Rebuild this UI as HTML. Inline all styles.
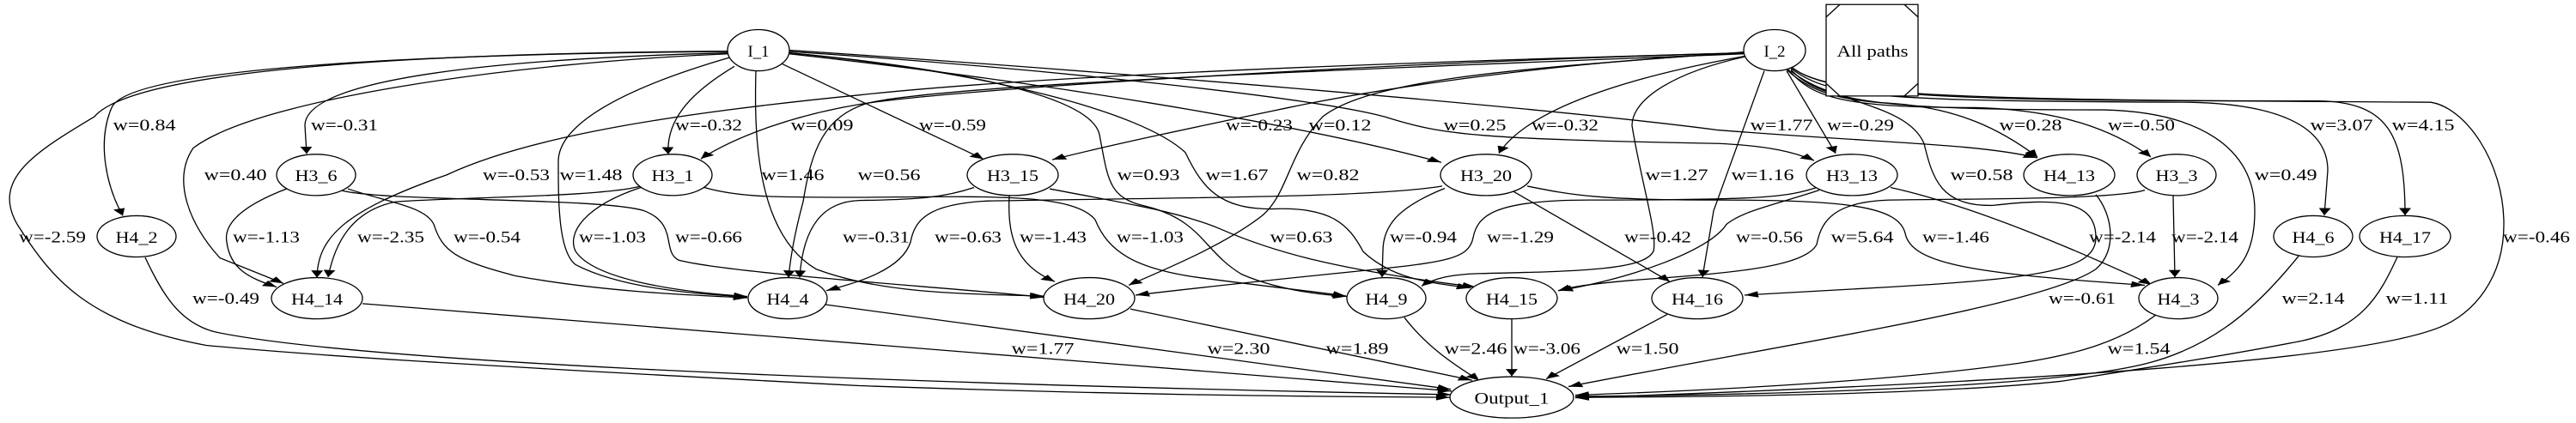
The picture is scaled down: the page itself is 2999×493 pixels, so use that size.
<!DOCTYPE html>
<html><head><meta charset="utf-8"><style>
html,body{margin:0;padding:0;background:#fff;}
svg{display:block;}
text{font-family:"Liberation Serif",serif;font-size:37px;fill:#000;}
path,ellipse,rect,line{vector-effect:non-scaling-stroke;}
</style></head><body>
<svg width="2999" height="493" viewBox="0 0 2999 493" xmlns="http://www.w3.org/2000/svg">
<defs>
<marker id="a" markerUnits="userSpaceOnUse" markerWidth="18" markerHeight="18" refX="16" refY="7" orient="auto">
<polygon points="0,0 16,7 0,14" fill="#000"/>
</marker>
</defs>
<g transform="scale(1,0.5227)">
<g fill="none" stroke="#000" stroke-width="1.3" marker-end="url(#a)">
<path d="M847,115 C500,120 150,150 130,240 C112,320 125,420 143,481"/>
<path d="M847,118 C600,130 355,170 355,280 L357,343"/>
<path d="M847,114 C400,120 150,170 110,260 C40,340 -10,400 20,500 C60,620 100,720 240,770 C350,790 500,810 1000,860 C1300,880 1500,884 1688,886"/>
<path d="M847,120 C600,140 300,220 225,330 C200,400 220,500 256,575 L330,632"/>
<path d="M850,128 C720,200 650,280 650,360 C650,450 650,560 670,590 C720,640 800,655 870,662"/>
<path d="M855,148 C810,200 775,260 778,344"/>
<path d="M880,158 C878,300 880,520 950,600 C1020,650 1100,655 1215,660"/>
<path d="M910,142 L1145,355"/>
<path d="M919,120 C1200,180 1500,270 1678,362"/>
<path d="M919,115 C1200,150 1550,220 1620,265 C1680,300 1720,310 2000,320 C2060,325 2090,340 2112,358"/>
<path d="M919,112 C1300,160 1800,240 2000,290 C2200,320 2300,320 2372,352"/>
<path d="M919,118 C1100,150 1270,210 1280,300 C1290,400 1290,440 1332,459 C1400,490 1400,560 1446,612 C1480,640 1520,655 1568,661"/>
<path d="M919,118 C1150,160 1330,250 1380,340 C1400,420 1420,466 1480,466 C1550,460 1570,500 1587,561 C1620,620 1660,630 1712,642"/>
<path d="M746,415 C700,440 520,440 460,450 C410,470 390,540 382,618"/>
<path d="M746,418 C680,460 660,520 670,560 C690,620 780,650 870,661"/>
<path d="M820,418 C860,440 900,440 1000,440 C1150,438 1250,430 1275,490 C1290,560 1320,600 1400,620 C1480,640 1530,650 1567,660"/>
<path d="M335,420 C280,460 260,500 264,540 C268,600 290,620 322,640"/>
<path d="M405,421 C450,450 495,460 505,500 C515,560 530,580 600,615 C700,650 800,658 870,664"/>
<path d="M398,425 C450,450 700,440 750,470 C790,500 770,560 790,580 C850,610 1100,640 1216,663"/>
<path d="M1134,418 C1100,440 1070,445 1000,447 C960,450 935,500 931,619"/>
<path d="M1175,437 C1173,520 1180,590 1228,628"/>
<path d="M1222,421 C1300,450 1370,470 1420,510 C1480,560 1550,600 1718,640"/>
<path d="M2030,118 C1600,140 1200,170 1000,212 C800,250 620,300 520,390 C400,470 370,530 369,619"/>
<path d="M2030,118 C1600,140 1100,200 1000,233 C930,255 860,300 816,354"/>
<path d="M2030,120 C1500,160 1100,190 1010,230 C960,260 945,330 935,450 C925,520 920,580 918,619"/>
<path d="M2030,118 C1800,140 1600,200 1500,240 C1400,280 1300,320 1225,356"/>
<path d="M2030,116 C1800,150 1600,170 1540,260 C1500,340 1500,430 1470,480 C1430,540 1370,590 1314,636"/>
<path d="M2035,125 C1950,160 1900,220 1900,280 C1910,400 1930,520 1925,560 C1915,600 1850,605 1720,610 C1690,612 1670,620 1655,638"/>
<path d="M2054,158 L1995,470 L1982,618"/>
<path d="M2032,125 C1900,170 1780,240 1745,342"/>
<path d="M2080,158 L2137,342"/>
<path d="M2080,155 C2110,210 2150,225 2200,230 C2280,240 2330,290 2372,350"/>
<path d="M2082,155 C2110,220 2150,240 2300,240 C2400,245 2460,290 2504,350"/>
<path d="M2085,155 C2120,230 2200,245 2450,245 C2560,250 2625,330 2625,470 C2625,560 2610,600 2582,636"/>
<path d="M2085,152 C2130,220 2200,225 2550,228 C2650,232 2710,280 2710,380 L2706,480"/>
<path d="M2086,150 C2130,220 2300,225 2700,225 C2780,228 2800,300 2800,480"/>
<path d="M2086,150 C2130,220 2300,222 2830,228 C2870,240 2915,360 2915,500 C2915,620 2880,700 2840,730 C2750,800 2400,850 1834,887"/>
<path d="M2085,158 C2130,230 2220,230 2240,320 C2250,400 2260,460 2320,458 C2400,440 2440,450 2440,530 C2440,600 2380,620 2200,640 C2100,650 2060,655 2031,658"/>
<path d="M1679,415 C1600,440 1400,440 1150,448 C1080,455 1065,490 1060,540 C1050,600 1000,630 962,648"/>
<path d="M1682,420 C1630,460 1610,500 1610,560 L1609,618"/>
<path d="M1762,427 L1944,628"/>
<path d="M1778,415 C1830,435 1860,446 2000,446 C2150,446 2210,460 2218,520 C2225,590 2300,610 2497,636"/>
<path d="M2115,418 C2080,440 2050,446 1850,446 C1740,446 1720,480 1715,530 C1710,580 1680,585 1574,606 C1450,630 1380,645 1322,658"/>
<path d="M2118,424 C2060,460 2030,470 2010,500 C1990,560 1900,620 1815,648"/>
<path d="M2201,418 C2300,460 2420,560 2505,635"/>
<path d="M2497,424 C2460,445 2300,443 2200,446 C2130,450 2120,500 2115,545 C2100,600 2000,610 1900,625 C1850,633 1830,640 1814,648"/>
<path d="M2530,437 L2532,618"/>
<path d="M2440,434 C2460,480 2465,560 2440,600 C2380,680 2100,760 1826,862"/>
<path d="M422,677 L1690,872"/>
<path d="M960,679 L1689,868"/>
<path d="M169,574 C190,660 210,720 250,740 C400,800 900,850 1690,880"/>
<path d="M1316,689 L1714,848"/>
<path d="M1635,708 C1660,770 1690,810 1722,848"/>
<path d="M1760,711 L1760,839"/>
<path d="M1941,701 L1800,845"/>
<path d="M2510,702 C2470,760 2420,790 2350,810 C2200,850 2000,870 1834,881"/>
<path d="M2676,571 C2630,680 2580,770 2500,810 C2400,860 2100,880 1834,884"/>
<path d="M2791,573 C2770,660 2750,730 2680,760 C2600,790 2500,820 2400,850 C2250,880 2000,885 1834,886"/>
</g>
<g fill="#fff" stroke="#000" stroke-width="1.3">
<ellipse cx="883" cy="112" rx="36" ry="46"/>
<ellipse cx="2066" cy="112" rx="36" ry="46"/>
<ellipse cx="368" cy="390" rx="46" ry="46"/>
<ellipse cx="783" cy="390" rx="46" ry="46"/>
<ellipse cx="1179" cy="390" rx="53" ry="46"/>
<ellipse cx="1730" cy="390" rx="53" ry="46"/>
<ellipse cx="2156" cy="390" rx="53" ry="46"/>
<ellipse cx="2409" cy="390" rx="53" ry="46"/>
<ellipse cx="2534" cy="390" rx="46" ry="46"/>
<ellipse cx="159" cy="527" rx="46" ry="46"/>
<ellipse cx="2693" cy="527" rx="46" ry="46"/>
<ellipse cx="2800" cy="527" rx="53" ry="46"/>
<ellipse cx="369" cy="665" rx="53" ry="46"/>
<ellipse cx="917" cy="665" rx="46" ry="46"/>
<ellipse cx="1268" cy="665" rx="53" ry="46"/>
<ellipse cx="1614" cy="665" rx="46" ry="46"/>
<ellipse cx="1760" cy="665" rx="53" ry="46"/>
<ellipse cx="1976" cy="665" rx="53" ry="46"/>
<ellipse cx="2536" cy="665" rx="46" ry="46"/>
<ellipse cx="1760" cy="886" rx="72" ry="46"/>
<rect x="2126" y="10" width="107" height="204"/>
</g>
<g stroke="#000" stroke-width="1.3">
<line x1="2126" y1="38" x2="2142" y2="10"/><line x1="2217" y1="10" x2="2233" y2="38"/>
<line x1="2126" y1="186" x2="2142" y2="214"/><line x1="2217" y1="214" x2="2233" y2="186"/>
</g>
<g text-anchor="middle" transform="translate(0,2)">
<text x="883" y="124" textLength="25" lengthAdjust="spacingAndGlyphs">I_1</text>
<text x="2066" y="124" textLength="25" lengthAdjust="spacingAndGlyphs">I_2</text>
<text x="2180" y="124" textLength="83" lengthAdjust="spacingAndGlyphs">All paths</text>
<text x="368" y="402" textLength="49" lengthAdjust="spacingAndGlyphs">H3_6</text>
<text x="783" y="402" textLength="49" lengthAdjust="spacingAndGlyphs">H3_1</text>
<text x="1179" y="402" textLength="60" lengthAdjust="spacingAndGlyphs">H3_15</text>
<text x="1730" y="402" textLength="60" lengthAdjust="spacingAndGlyphs">H3_20</text>
<text x="2156" y="402" textLength="60" lengthAdjust="spacingAndGlyphs">H3_13</text>
<text x="2409" y="402" textLength="60" lengthAdjust="spacingAndGlyphs">H4_13</text>
<text x="2534" y="402" textLength="49" lengthAdjust="spacingAndGlyphs">H3_3</text>
<text x="159" y="539" textLength="49" lengthAdjust="spacingAndGlyphs">H4_2</text>
<text x="2693" y="539" textLength="49" lengthAdjust="spacingAndGlyphs">H4_6</text>
<text x="2800" y="539" textLength="60" lengthAdjust="spacingAndGlyphs">H4_17</text>
<text x="369" y="677" textLength="60" lengthAdjust="spacingAndGlyphs">H4_14</text>
<text x="917" y="677" textLength="49" lengthAdjust="spacingAndGlyphs">H4_4</text>
<text x="1268" y="677" textLength="60" lengthAdjust="spacingAndGlyphs">H4_20</text>
<text x="1614" y="677" textLength="49" lengthAdjust="spacingAndGlyphs">H4_9</text>
<text x="1760" y="677" textLength="60" lengthAdjust="spacingAndGlyphs">H4_15</text>
<text x="1976" y="677" textLength="60" lengthAdjust="spacingAndGlyphs">H4_16</text>
<text x="2536" y="677" textLength="49" lengthAdjust="spacingAndGlyphs">H4_3</text>
<text x="1760" y="898" textLength="87" lengthAdjust="spacingAndGlyphs">Output_1</text>

<text x="168" y="289" textLength="73" lengthAdjust="spacingAndGlyphs">w=0.84</text>
<text x="401" y="289" textLength="78" lengthAdjust="spacingAndGlyphs">w=-0.31</text>
<text x="825" y="289" textLength="78" lengthAdjust="spacingAndGlyphs">w=-0.32</text>
<text x="957" y="289" textLength="73" lengthAdjust="spacingAndGlyphs">w=0.09</text>
<text x="1109" y="289" textLength="78" lengthAdjust="spacingAndGlyphs">w=-0.59</text>
<text x="1466" y="289" textLength="78" lengthAdjust="spacingAndGlyphs">w=-0.23</text>
<text x="1560" y="289" textLength="73" lengthAdjust="spacingAndGlyphs">w=0.12</text>
<text x="1717" y="289" textLength="73" lengthAdjust="spacingAndGlyphs">w=0.25</text>
<text x="1822" y="289" textLength="78" lengthAdjust="spacingAndGlyphs">w=-0.32</text>
<text x="2074" y="289" textLength="73" lengthAdjust="spacingAndGlyphs">w=1.77</text>
<text x="2166" y="289" textLength="78" lengthAdjust="spacingAndGlyphs">w=-0.29</text>
<text x="2364" y="289" textLength="73" lengthAdjust="spacingAndGlyphs">w=0.28</text>
<text x="2493" y="289" textLength="78" lengthAdjust="spacingAndGlyphs">w=-0.50</text>
<text x="2726" y="289" textLength="73" lengthAdjust="spacingAndGlyphs">w=3.07</text>
<text x="2821" y="289" textLength="73" lengthAdjust="spacingAndGlyphs">w=4.15</text>

<text x="274" y="400" textLength="73" lengthAdjust="spacingAndGlyphs">w=0.40</text>
<text x="601" y="400" textLength="78" lengthAdjust="spacingAndGlyphs">w=-0.53</text>
<text x="688" y="400" textLength="73" lengthAdjust="spacingAndGlyphs">w=1.48</text>
<text x="923" y="400" textLength="73" lengthAdjust="spacingAndGlyphs">w=1.46</text>
<text x="1035" y="400" textLength="73" lengthAdjust="spacingAndGlyphs">w=0.56</text>
<text x="1337" y="400" textLength="73" lengthAdjust="spacingAndGlyphs">w=0.93</text>
<text x="1440" y="400" textLength="73" lengthAdjust="spacingAndGlyphs">w=1.67</text>
<text x="1546" y="400" textLength="73" lengthAdjust="spacingAndGlyphs">w=0.82</text>
<text x="1952" y="400" textLength="73" lengthAdjust="spacingAndGlyphs">w=1.27</text>
<text x="2052" y="400" textLength="73" lengthAdjust="spacingAndGlyphs">w=1.16</text>
<text x="2307" y="400" textLength="73" lengthAdjust="spacingAndGlyphs">w=0.58</text>
<text x="2661" y="400" textLength="73" lengthAdjust="spacingAndGlyphs">w=0.49</text>

<text x="61" y="538" textLength="78" lengthAdjust="spacingAndGlyphs">w=-2.59</text>
<text x="310" y="538" textLength="78" lengthAdjust="spacingAndGlyphs">w=-1.13</text>
<text x="455" y="538" textLength="78" lengthAdjust="spacingAndGlyphs">w=-2.35</text>
<text x="567" y="538" textLength="78" lengthAdjust="spacingAndGlyphs">w=-0.54</text>
<text x="713" y="538" textLength="78" lengthAdjust="spacingAndGlyphs">w=-1.03</text>
<text x="825" y="538" textLength="78" lengthAdjust="spacingAndGlyphs">w=-0.66</text>
<text x="1020" y="538" textLength="78" lengthAdjust="spacingAndGlyphs">w=-0.31</text>
<text x="1127" y="538" textLength="78" lengthAdjust="spacingAndGlyphs">w=-0.63</text>
<text x="1226" y="538" textLength="78" lengthAdjust="spacingAndGlyphs">w=-1.43</text>
<text x="1339" y="538" textLength="78" lengthAdjust="spacingAndGlyphs">w=-1.03</text>
<text x="1515" y="538" textLength="73" lengthAdjust="spacingAndGlyphs">w=0.63</text>
<text x="1657" y="538" textLength="78" lengthAdjust="spacingAndGlyphs">w=-0.94</text>
<text x="1770" y="538" textLength="78" lengthAdjust="spacingAndGlyphs">w=-1.29</text>
<text x="1930" y="538" textLength="78" lengthAdjust="spacingAndGlyphs">w=-0.42</text>
<text x="2060" y="538" textLength="78" lengthAdjust="spacingAndGlyphs">w=-0.56</text>
<text x="2168" y="538" textLength="73" lengthAdjust="spacingAndGlyphs">w=5.64</text>
<text x="2277" y="538" textLength="78" lengthAdjust="spacingAndGlyphs">w=-1.46</text>
<text x="2471" y="538" textLength="78" lengthAdjust="spacingAndGlyphs">w=-2.14</text>
<text x="2567" y="538" textLength="78" lengthAdjust="spacingAndGlyphs">w=-2.14</text>
<text x="2953" y="538" textLength="78" lengthAdjust="spacingAndGlyphs">w=-0.46</text>

<text x="263" y="675" textLength="78" lengthAdjust="spacingAndGlyphs">w=-0.49</text>
<text x="2424" y="675" textLength="78" lengthAdjust="spacingAndGlyphs">w=-0.61</text>
<text x="2693" y="675" textLength="73" lengthAdjust="spacingAndGlyphs">w=2.14</text>
<text x="2814" y="675" textLength="73" lengthAdjust="spacingAndGlyphs">w=1.11</text>

<text x="1214" y="787" textLength="73" lengthAdjust="spacingAndGlyphs">w=1.77</text>
<text x="1442" y="787" textLength="73" lengthAdjust="spacingAndGlyphs">w=2.30</text>
<text x="1580" y="787" textLength="73" lengthAdjust="spacingAndGlyphs">w=1.89</text>
<text x="1718" y="787" textLength="73" lengthAdjust="spacingAndGlyphs">w=2.46</text>
<text x="1801" y="787" textLength="78" lengthAdjust="spacingAndGlyphs">w=-3.06</text>
<text x="1918" y="787" textLength="73" lengthAdjust="spacingAndGlyphs">w=1.50</text>
<text x="2490" y="787" textLength="73" lengthAdjust="spacingAndGlyphs">w=1.54</text>
</g>
</g>
</svg>
</body></html>
